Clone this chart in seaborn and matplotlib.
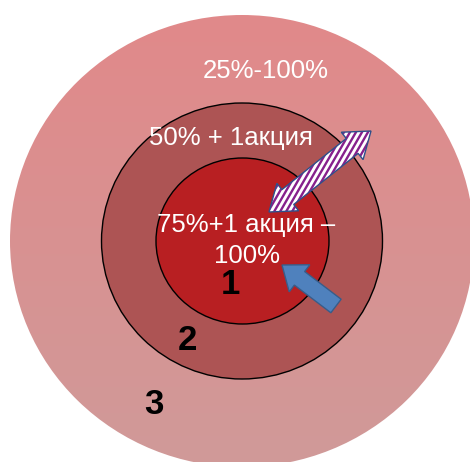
import numpy as np
import matplotlib
matplotlib.use("Agg")
import matplotlib.pyplot as plt
from matplotlib.patches import Ellipse, Polygon, FancyArrow
from matplotlib.collections import LineCollection
import seaborn as sns

# Ownership thresholds shown on each ring, from the core outward
ring_labels = [["75%+1 акция –", "100%"], ["50% + 1акция"], ["25%-100%"]]
ring_numbers = ["1", "2", "3"]

# Ring fills (core, middle); the outer ring is a vertical gradient
ring_colors = ["#b81f22", "#ad5454"]
outer_gradient = ["#e1898a", "#d09a99"]

sns.set_theme(style="white")
plt.rcParams["font.family"] = ["Liberation Sans", "DejaVu Sans"]

W, H = 470, 462
fig = plt.figure(figsize=(W / 100, H / 100), dpi=100)
ax = fig.add_axes([0, 0, 1, 1])
ax.set_xlim(0, W)
ax.set_ylim(H, 0)
ax.axis("off")
fig.patch.set_facecolor("white")

cx, cy = 242, 241

# Outer ring: gradient image clipped to an ellipse
outer = Ellipse((cx, cy), 464, 452, facecolor="none", edgecolor="none")
ax.add_patch(outer)
cmap = sns.blend_palette(outer_gradient, n_colors=256, as_cmap=True)
grad = np.linspace(0, 1, 256).reshape(-1, 1)
img = ax.imshow(grad, cmap=cmap, extent=(cx - 232, cx + 232, cy + 226, cy - 226),
                aspect="auto", interpolation="bilinear", zorder=1)
img.set_clip_path(outer)

# Middle and inner rings
ax.add_patch(Ellipse((cx, cy), 281, 276, facecolor=ring_colors[1],
                     edgecolor="black", linewidth=1.0, zorder=2))
ax.add_patch(Ellipse((cx + 0.5, cy), 173, 166, facecolor=ring_colors[0],
                     edgecolor="black", linewidth=1.0, zorder=3))


def double_arrow(p0, p1, shaft_w, head_w, head_l):
    p0, p1 = np.asarray(p0, float), np.asarray(p1, float)
    d = p1 - p0
    u = d / np.hypot(*d)
    n = np.array([-u[1], u[0]])
    a = p0 + u * head_l
    b = p1 - u * head_l
    pts = [p0,
           a + n * head_w / 2, a + n * shaft_w / 2,
           b + n * shaft_w / 2, b + n * head_w / 2,
           p1,
           b - n * head_w / 2, b - n * shaft_w / 2,
           a - n * shaft_w / 2, a - n * head_w / 2]
    return np.array(pts)


# Striped two-way arrow
pts = double_arrow((269, 212), (371, 131), 19, 35, 24)
body = Polygon(pts, closed=True, facecolor="white", edgecolor="none", zorder=5)
ax.add_patch(body)
x0, x1 = pts[:, 0].min() - 40, pts[:, 0].max() + 40
y0, y1 = pts[:, 1].min() - 5, pts[:, 1].max() + 5
slope = np.tan(np.radians(60))
segs = []
for xs in np.arange(x0, x1, 6.0):
    # steep "/" stripes (screen up-right means decreasing data y)
    segs.append([(xs, y1), (xs + (y1 - y0) / slope, y0)])
stripes = LineCollection(segs, colors="#86208c", linewidths=1.7, zorder=5.5)
ax.add_collection(stripes)
stripes.set_clip_path(body)
ax.add_patch(Polygon(pts, closed=True, facecolor="none", edgecolor="#2f4f8a",
                     linewidth=1.0, zorder=6))

# Solid arrow pointing into the core
ax.add_patch(FancyArrow(336, 306, 282 - 336, 265 - 306, width=17, head_width=34,
                        head_length=22, length_includes_head=True,
                        facecolor="#4f81bd", edgecolor="#385d8a",
                        linewidth=1.0, zorder=6))

# Ring labels
ax.text(266, 71, ring_labels[2][0], color="white", fontsize=18.5,
        ha="center", va="center", zorder=7)
ax.text(231, 138, ring_labels[1][0], color="white", fontsize=18.5,
        ha="center", va="center", zorder=7)
ax.text(246, 225, ring_labels[0][0], color="white", fontsize=18.5,
        ha="center", va="center", zorder=7)
ax.text(247, 256, ring_labels[0][1], color="white", fontsize=18.5,
        ha="center", va="center", zorder=7)

# Ring numbers
for num, (x, y) in zip(ring_numbers, [(230, 284), (187, 340), (154, 405)]):
    ax.text(x, y, num, color="black", fontsize=25, fontweight="bold",
            ha="center", va="center", zorder=7)

fig.savefig("out.png", dpi=100)
